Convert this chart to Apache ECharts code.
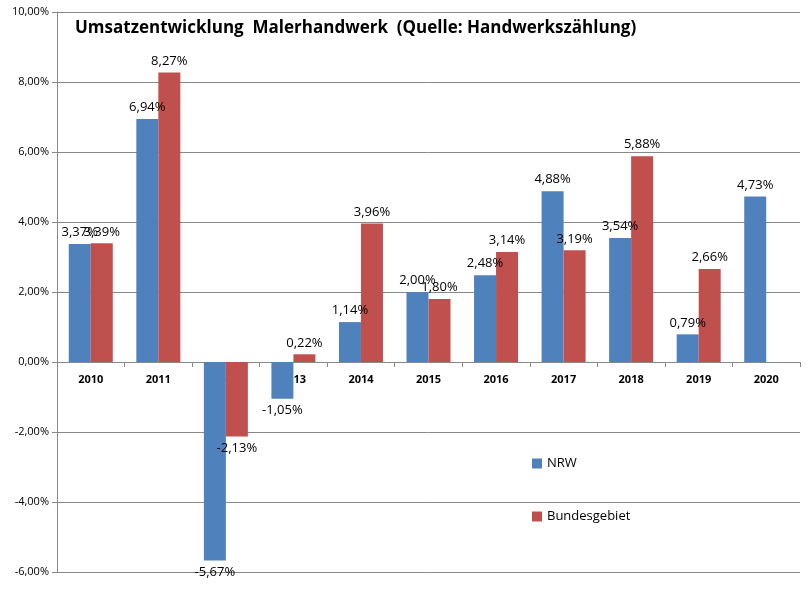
<!DOCTYPE html>
<html><head><meta charset="utf-8">
<script src="https://cdn.jsdelivr.net/npm/echarts@6/dist/echarts.min.js"></script>
<style>html,body{margin:0;padding:0;background:#fff}#c{width:811px;height:603px}</style>
</head><body><div id="c"></div>
<script>
const years = ['2010','2011','2012','2013','2014','2015','2016','2017','2018','2019','2020'];
const nrw = [3.37, 6.94, -5.67, -1.05, 1.14, 2.00, 2.48, 4.88, 3.54, 0.79, 4.73];
const bund = [3.39, 8.27, -2.13, 0.22, 3.96, 1.80, 3.14, 3.19, 5.88, 2.66, null];

const fmt = v => v.toFixed(2).replace('.', ',') + '%';
const lbl = {
  show: true, fontFamily: 'Open Sans', fontSize: 13, color: '#000',
  formatter: p => fmt(p.value),
  position: 'top'
};
const mk = (arr) => arr.map(v => v == null ? null : ({
  value: v, label: { position: v < 0 ? 'bottom' : 'top' }
}));

const chart = echarts.init(document.getElementById('c'));
chart.setOption({
  animation: false,
  textStyle: { fontFamily: 'Open Sans' },
  graphic: [{ type: 'text', left: 75, top: 20,
    style: { text: 'Umsatzentwicklung  Malerhandwerk  (Quelle: Handwerkszählung)',
      font: 'bold 17px "Open Sans"', fill: '#000' } }],
  grid: { left: 57, right: 11, top: 12, bottom: 31 },
  legend: {
    orient: 'vertical', left: 527, top: 452, itemGap: 40,
    itemWidth: 10, itemHeight: 10, icon: 'rect',
    textStyle: { fontSize: 13, color: '#000' },
    data: ['NRW', 'Bundesgebiet']
  },
  xAxis: {
    type: 'category', data: years, position: 'bottom', offset: -210,
    axisLine: { onZero: false, lineStyle: { color: '#888' } },
    axisTick: { show: true, length: 5, lineStyle: { color: '#888' } },
    axisLabel: { fontWeight: 'bold', fontSize: 11, color: '#000', margin: 12 }
  },
  yAxis: {
    type: 'value', min: -6, max: 10, interval: 2,
    axisLine: { show: true, lineStyle: { color: '#888' } },
    axisTick: { show: true, lineStyle: { color: '#888' } },
    axisLabel: { fontSize: 11, color: '#000', formatter: v => v.toFixed(2).replace('.', ',') + '%' },
    splitLine: { lineStyle: { color: '#888' } }
  },
  series: [
    { name: 'NRW', type: 'bar', data: mk(nrw), barWidth: 22, barGap: '0%',
      itemStyle: { color: '#4F81BD' }, label: lbl },
    { name: 'Bundesgebiet', type: 'bar', data: mk(bund), barWidth: 22,
      itemStyle: { color: '#C0504D' }, label: lbl }
  ]
});
</script></body></html>
